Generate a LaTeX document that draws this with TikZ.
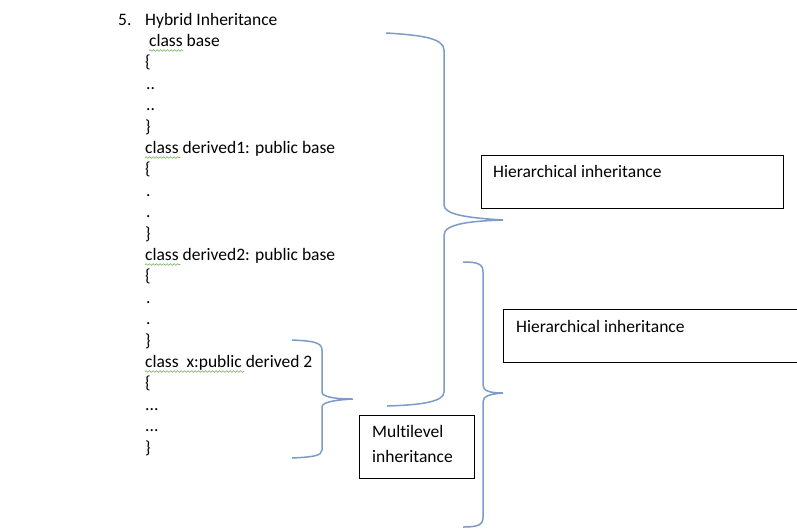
\documentclass[tikz,border=0pt]{standalone}
\usepackage{fontspec}
\setmainfont{Carlito}[Ligatures={NoCommon}]
\usetikzlibrary{decorations.pathmorphing}
\begin{document}
\begin{tikzpicture}[x=1pt,y=-1pt,
  txt/.style={anchor=base west,inner sep=0pt,font=\fontsize{17.5}{20}\selectfont},
  boxed/.style={draw=black,line width=1.1pt,anchor=north west,inner sep=0pt},
  bracecurve/.style={draw={rgb,255:red,125;green,155;blue,200},line width=1.5pt},
  squig/.style={draw={rgb,255:red,110;green,175;blue,90},line width=0.6pt,decorate,decoration={snake,amplitude=0.8pt,segment length=3.5pt}}]
\clip (0,0) rectangle (797,531);
\fill[white] (0,0) rectangle (797,531);
% code text
\node[txt] (n5) at (118,25) {5.};
\node[txt] (l0) at (145,25) {Hybrid Inheritance};
\node[txt] (l1) at (149,46.4) {class base};
\node[txt] (l2) at (145,67.8) {\{};
\node[txt] (l3) at (146,89.2) {..};
\node[txt] (l4) at (146,110.6) {..};
\node[txt] (l5) at (145,132) {\}};
\node[txt] (l6) at (145,153.4) {class derived1: public base};
\node[txt] (l7) at (145,174.8) {\{};
\node[txt] (l8) at (146,196.2) {.};
\node[txt] (l9) at (146,217.6) {.};
\node[txt] (l10) at (145,239) {\}};
\node[txt] (l11) at (145,260.4) {class derived2: public base};
\node[txt] (l12) at (145,281.8) {\{};
\node[txt] (l13) at (146,303.2) {.};
\node[txt] (l14) at (146,324.6) {.};
\node[txt] (l15) at (145,346) {\}};
\node[txt] (l16) at (145,367.4) {class\ \ x:public derived 2};
\node[txt] (l17) at (145,388.8) {\{};
\node[txt] (l18) at (145,410.2) {...};
\node[txt] (l19) at (145,431.6) {...};
\node[txt] (l20) at (145,453) {\}};
% spell-check squiggles
\draw[squig] (149,50.5) -- (183,50.5);
\draw[squig] (145,157.5) -- (180,157.5);
\draw[squig] (145,264.5) -- (180,264.5);
\draw[squig] (145,371.5) -- (244,371.5);
% boxes
\node[boxed,minimum width=302pt,minimum height=53pt] (hb1) at (481,155) {};
\node[txt] (hb1t) at (493,177) {Hierarchical inheritance};
\node[boxed,minimum width=320pt,minimum height=53pt] (hb2) at (503,309) {};
\node[txt] (hb2t) at (516,332) {Hierarchical inheritance};
\node[boxed,minimum width=115pt,minimum height=63pt] (mb) at (359,415) {};
\node[txt] (mbt1) at (372,437) {Multilevel};
\node[txt] (mbt2) at (372,462) {inheritance};
% braces
\draw[bracecurve] (386,33) .. controls (420,35) and (444,38) .. (444,50) -- (444,205)
  .. controls (444,215) and (470,218) .. (503,220)
  .. controls (470,221) and (444,224) .. (444,235) -- (444,392)
  .. controls (444,402) and (420,405) .. (387,406);
\draw[bracecurve] (463,262) .. controls (478,262) and (483,264) .. (483,272) -- (483,385)
  .. controls (483,391) and (490,393) .. (503,393)
  .. controls (490,394) and (483,396) .. (483,402) -- (483,517)
  .. controls (483,525) and (478,527) .. (463,527);
\draw[bracecurve] (292,340) .. controls (312,341) and (322,342) .. (322,350) -- (322,392)
  .. controls (322,397) and (335,399) .. (353,399)
  .. controls (335,400) and (322,402) .. (322,407) -- (322,450)
  .. controls (322,456) and (312,457) .. (292,458);
\end{tikzpicture}
\end{document}
